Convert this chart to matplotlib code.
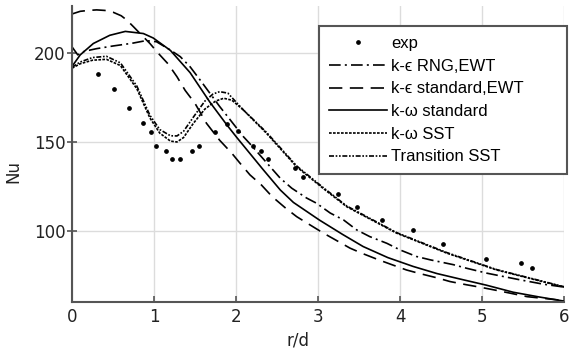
import numpy as np
import matplotlib
matplotlib.use("Agg")
import matplotlib.pyplot as plt

# experimental points
exp_x = [0.32, 0.51, 0.69, 0.86, 0.96, 1.02, 1.15, 1.22, 1.32, 1.46, 1.55, 1.74, 1.89,
         2.03, 2.21, 2.30, 2.39, 2.72, 2.82, 3.24, 3.47, 3.78, 4.16, 4.52, 5.05, 5.47, 5.61]
exp_y = [188, 180, 169, 160.5, 155.5, 148, 145, 140.6, 140.6, 145, 148, 155.5, 160,
         156.2, 148, 145, 140.5, 135.6, 130.5, 121, 113.6, 106, 100.4, 92.7, 84.4, 82, 79.2]

# k-eps RNG, EWT
rng_x = [0, 0.07, 0.15, 0.3, 0.5, 0.73, 0.9, 1.03, 1.2, 1.32, 1.44, 1.56, 1.8, 1.93, 2.09,
         2.17, 2.54, 2.68, 2.86, 2.98, 3.15, 3.31, 3.47, 3.63, 3.84, 4.0, 4.2, 4.37, 4.65,
         4.81, 5.06, 5.46, 5.75, 6.0]
rng_y = [203.5, 199, 201, 202.5, 204, 205.5, 207, 206.4, 201.7, 198, 192.3, 185, 170, 162.4,
         153, 149, 129.6, 124, 118.5, 115.6, 110, 106.2, 100.6, 96.8, 93, 89.3, 85.6, 83.7,
         81, 79, 76.2, 72.5, 70, 68.4]

# k-eps standard, EWT
kes_x = [0, 0.1, 0.2, 0.3, 0.4, 0.5, 0.6, 0.67, 0.75, 0.83, 0.95, 1.05, 1.17, 1.28, 1.38,
         1.5, 1.64, 1.8, 1.95, 2.05, 2.17, 2.31, 2.44, 2.6, 2.74, 2.88, 3.06, 3.21, 3.39,
         3.53, 3.74, 3.9, 4.08, 4.24, 4.45, 4.61, 4.81, 4.98, 5.18, 5.34, 5.55, 5.8, 6.0]
kes_y = [222, 223.5, 224, 224.3, 224, 223, 221, 218.5, 214.8, 211, 205.4, 200, 194, 186.7,
         179, 171.7, 160.5, 151, 143.6, 138, 131.5, 125.8, 119.3, 113, 108, 104, 98.9, 95,
         90.3, 87.5, 83.7, 81, 78, 76, 73.6, 71.5, 69.7, 68.3, 66.5, 65, 63, 61.8, 60.8]

# k-omega standard
kws_x = [0, 0.1, 0.26, 0.46, 0.65, 0.87, 0.99, 1.2, 1.44, 1.68, 1.89, 2.01, 2.33, 2.54, 2.7,
         3.02, 3.3, 3.55, 3.85, 4.16, 4.45, 4.77, 5.05, 5.38, 5.7, 6.0]
kws_y = [192.5, 199, 205.4, 210, 212.2, 211, 208.5, 201.5, 189, 172.5, 159.5, 152.5, 134.5,
         123, 116, 106, 98, 91.2, 85, 80, 76, 72.5, 69.5, 65.5, 62.8, 60.5]

# k-omega SST
sst_x = [0, 0.1, 0.25, 0.42, 0.59, 0.79, 0.95, 1.07, 1.2, 1.28, 1.36, 1.48, 1.62, 1.75,
         1.85, 1.95, 2.09, 2.37, 2.74, 3.06, 3.35, 3.96, 4.57, 5.18, 6.0]
sst_y = [191.5, 194, 196, 196.5, 193, 180, 163.5, 155, 150.5, 150, 152.5, 160.5, 168.5,
         173, 174.6, 173.5, 168, 155, 136, 124, 113.6, 98.7, 87.5, 78, 68.4]

# Transition SST
tra_x = [0, 0.1, 0.25, 0.42, 0.59, 0.79, 0.95, 1.07, 1.2, 1.28, 1.36, 1.48, 1.62, 1.72,
         1.8, 1.9, 2.09, 2.37, 2.74, 3.06, 3.35, 3.96, 4.57, 5.18, 6.0]
tra_y = [192, 195, 197.5, 198.2, 194.5, 181.5, 165, 157, 153.5, 153.4, 156, 164, 173,
         177, 178.3, 177.5, 168, 155.5, 136.5, 124.5, 114, 99, 87.8, 78.2, 68.6]

labels = ["exp", "k-\u03f5 RNG,EWT", "k-\u03f5 standard,EWT", "k-\u03c9 standard",
          "k-\u03c9 SST", "Transition SST"]

fig = plt.figure(figsize=(5.78, 3.56), dpi=100)
ax = fig.add_axes([0.1246, 0.1517, 0.8512, 0.8315])

lw = 1.2
ax.plot(exp_x, exp_y, "o", color="black", ms=2.4, lw=0, label=labels[0])
ax.plot(rng_x, rng_y, color="black", lw=lw, ls=(0, (7, 2.5, 1.2, 2.5)), label=labels[1])
ax.plot(kes_x, kes_y, color="black", lw=lw, ls=(0, (8, 4.5)), label=labels[2])
ax.plot(kws_x, kws_y, color="black", lw=lw, ls="-", label=labels[3])
ax.plot(sst_x, sst_y, color="black", lw=lw, ls=(0, (1.6, 0.8)), label=labels[4])
ax.plot(tra_x, tra_y, color="black", lw=lw, ls=(0, (3, 1, 1, 1, 1, 1)), label=labels[5])

ax.set_xlim(0, 6)
ax.set_ylim(60, 226.5)
ax.set_xticks([0, 1, 2, 3, 4, 5, 6])
ax.set_yticks([100, 150, 200])
ax.grid(True, color="#dcdcdc", lw=1)
ax.set_axisbelow(True)

for side in ["top", "right"]:
    ax.spines[side].set_visible(False)
for side in ["left", "bottom"]:
    ax.spines[side].set_color("#555555")
    ax.spines[side].set_linewidth(1.5)

ax.tick_params(axis="x", direction="in", length=4, width=1.2, color="#555555",
               labelsize=12, labelcolor="#222222", pad=4)
ax.tick_params(axis="y", direction="inout", length=7, width=1.2, color="#555555",
               labelsize=12, labelcolor="#222222", pad=1)

ax.set_xlabel("r/d", fontsize=12, color="#222222")
ax.set_ylabel("Nu", fontsize=12, color="#222222")
ax.xaxis.set_label_coords(0.46, -0.1)
ax.yaxis.set_label_coords(-0.1, 0.44)

leg = ax.legend(loc="upper left", bbox_to_anchor=(0.502, 0.932, 0.504, 0), mode="expand",
                prop={"family": "Liberation Sans", "size": 12}, numpoints=1,
                handlelength=3.5, handletextpad=0.25, labelspacing=0.46, borderpad=0.6,
                fancybox=False, framealpha=1, borderaxespad=0)
leg.get_frame().set_edgecolor("#555555")
leg.get_frame().set_linewidth(1.5)

fig.savefig("out.png", dpi=100)
